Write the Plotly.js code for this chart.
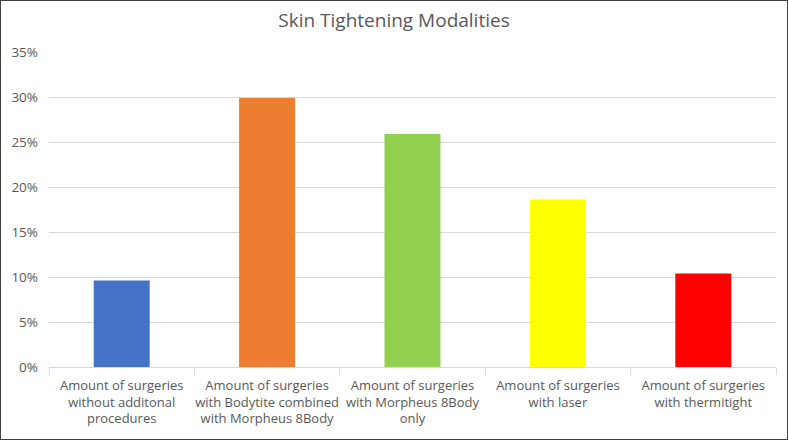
<!DOCTYPE html>
<html>
<head>
<meta charset="utf-8">
<script src="https://cdn.plot.ly/plotly-3.0.1.min.js"></script>
<style>
html,body{margin:0;padding:0;background:#fff;}
#frame{width:788px;height:440px;box-sizing:border-box;border:1px solid #404040;overflow:hidden;}
#chart{width:786px;height:438px;}
</style>
</head>
<body>
<div id="frame"><div id="chart"></div></div>
<script>
const categories = [
  "Amount of surgeries<br>without additonal<br>procedures",
  "Amount of surgeries<br>with Bodytite combined<br>with Morpheus 8Body",
  "Amount of surgeries<br>with Morpheus 8Body<br>only",
  "Amount of surgeries<br>with laser",
  "Amount of surgeries<br>with thermitight"
];
const values = [0.096, 0.299, 0.259, 0.186, 0.104];
const colors = ["#4472C4", "#ED7D31", "#92D050", "#FFFF00", "#FF0000"];
const yTickVals = [0, 0.05, 0.10, 0.15, 0.20, 0.25, 0.30, 0.35];
const yTickText = ["0%", "5%", "10%", "15%", "20%", "25%", "30%", "35%"];

const font = {family: "Open Sans, Noto Sans, sans-serif", color: "#595959"};

Plotly.newPlot("chart", [{
  type: "bar",
  x: categories,
  y: values,
  marker: {color: colors},
  hoverinfo: "none"
}], {
  width: 786,
  height: 438,
  margin: {l: 48, r: 11, t: 51, b: 72},
  paper_bgcolor: "#fff",
  plot_bgcolor: "#fff",
  bargap: 0.615,
  showlegend: false,
  title: {text: "Skin Tightening Modalities", x: 0.5, xanchor: "center", y: 0.955, yanchor: "middle",
          font: {family: font.family, size: 19, color: "#595959"}},
  xaxis: {
    type: "category",
    showgrid: false,
    showline: true, linecolor: "#D9D9D9", linewidth: 1,
    ticks: "outside", tickson: "boundaries", ticklen: 7, tickcolor: "#D9D9D9",
    tickangle: 0,
    ticklabelstandoff: 6,
    tickfont: {family: font.family, size: 13, color: "#595959"},
    zeroline: false
  },
  yaxis: {
    range: [0, 0.35],
    tickvals: yTickVals,
    ticktext: yTickText,
    showgrid: true, gridcolor: "#D9D9D9", gridwidth: 1,
    zeroline: false, showline: false,
    ticks: "", ticklen: 0,
    ticklabelstandoff: 10,
    tickfont: {family: font.family, size: 13.5, color: "#595959"}
  }
}, {displayModeBar: false, staticPlot: true});
</script>
</body>
</html>
